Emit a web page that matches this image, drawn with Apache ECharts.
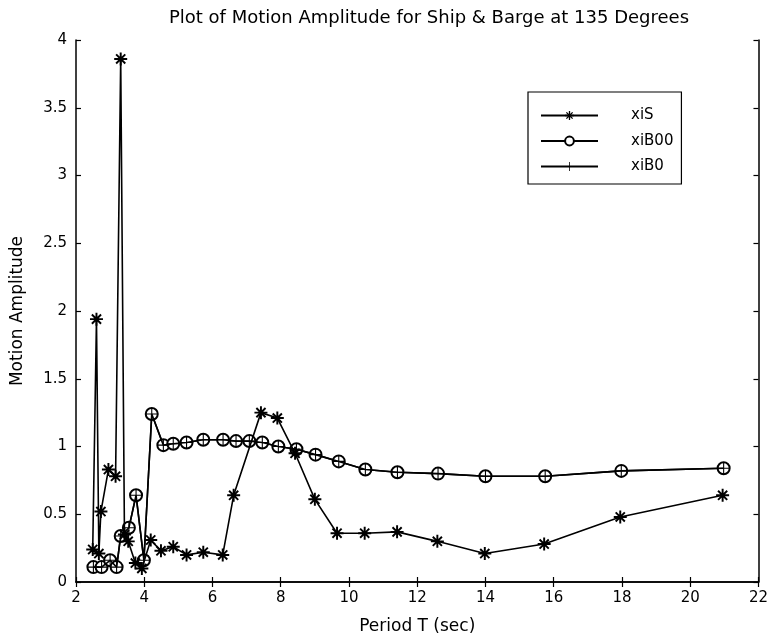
<!DOCTYPE html>
<html>
<head>
<meta charset="utf-8">
<script src="https://cdn.jsdelivr.net/npm/echarts@6/dist/echarts.min.js"></script>
<style>html,body{margin:0;padding:0;background:#fff}#c{width:771px;height:640px}</style>
</head>
<body>
<div id="c"></div>
<script>
// Data
var titleText = 'Plot of Motion Amplitude for Ship & Barge at 135 Degrees';
var xLabel = 'Period T (sec)';
var yLabel = 'Motion Amplitude';
var seriesNames = ['xiS', 'xiB00', 'xiB0'];

var xiS_T = [2.49, 2.60, 2.67, 2.73, 2.95, 3.16, 3.31, 3.42, 3.53, 3.74, 3.93, 4.19, 4.49, 4.85, 5.24, 5.73, 6.30, 6.62, 7.42, 7.90, 8.42, 9.00, 9.65, 10.46, 11.41, 12.59, 13.98, 15.72, 17.95, 20.95];
var xiS_A = [0.24, 1.94, 0.21, 0.52, 0.83, 0.78, 3.86, 0.35, 0.30, 0.14, 0.10, 0.31, 0.23, 0.26, 0.20, 0.22, 0.20, 0.64, 1.25, 1.21, 0.95, 0.61, 0.36, 0.36, 0.37, 0.30, 0.21, 0.28, 0.48, 0.64];

var xiB00_T = [2.51, 2.75, 3.00, 3.19, 3.31, 3.55, 3.76, 3.99, 4.22, 4.56, 4.85, 5.24, 5.73, 6.31, 6.69, 7.08, 7.46, 7.93, 8.46, 9.02, 9.70, 10.48, 11.42, 12.61, 14.00, 15.75, 17.98, 20.98];
var xiB00_A = [0.11, 0.11, 0.16, 0.11, 0.34, 0.40, 0.64, 0.16, 1.24, 1.01, 1.02, 1.03, 1.05, 1.05, 1.04, 1.04, 1.03, 1.00, 0.98, 0.94, 0.89, 0.83, 0.81, 0.80, 0.78, 0.78, 0.82, 0.84];

var xiB0_T = [2.51, 2.75, 3.00, 3.19, 3.31, 3.55, 3.76, 3.99, 4.22, 4.56, 4.85, 5.24, 5.73, 6.31, 6.69, 7.08, 7.46, 7.93, 8.46, 9.02, 9.70, 10.48, 11.42, 12.61, 14.00, 15.75, 17.98, 20.98];
var xiB0_A = [0.11, 0.11, 0.16, 0.11, 0.34, 0.40, 0.64, 0.16, 1.24, 1.01, 1.02, 1.03, 1.05, 1.05, 1.04, 1.04, 1.03, 1.00, 0.98, 0.94, 0.89, 0.83, 0.81, 0.80, 0.78, 0.78, 0.82, 0.84];

function pairs(xs, ys) { return xs.map(function (x, i) { return [x, ys[i]]; }); }

var starPath = 'path://M8.5 0L11.5 0L11.5 20L8.5 20Z M0 8.5L20 8.5L20 11.5L0 11.5Z M1.9 4L4 1.9L18.1 16L16 18.1Z M16 1.9L18.1 4L4 18.1L1.9 16Z';
var plusPath = 'path://M9.1 0L10.9 0L10.9 20L9.1 20Z M0 9.1L20 9.1L20 10.9L0 10.9Z';

var font = 'DejaVu Sans';
var axisCommon = {
  axisLine: { show: true, lineStyle: { color: '#000', width: 1.5 } },
  axisTick: { show: true, inside: true, length: 5, lineStyle: { color: '#000', width: 1.2 } },
  splitLine: { show: false }
};

var chart = echarts.init(document.getElementById('c'), null, { renderer: 'canvas' });
chart.setOption({
  backgroundColor: '#fff',
  animation: false,
  title: {
    text: titleText, left: 424, top: 4, textAlign: 'center',
    textStyle: { fontFamily: font, fontSize: 18, fontWeight: 'normal', color: '#000' }
  },
  legend: {
    orient: 'vertical', left: 528, top: 92,
    data: seriesNames,
    itemWidth: 57, itemHeight: 11, itemGap: 10.5,
    padding: [16, 8, 10, 12],
    borderColor: '#000', borderWidth: 1.2,
    textStyle: { fontFamily: font, fontSize: 15, color: '#000', padding: [0, 0, 0, 28] }
  },
  grid: { left: 76, right: 12, top: 40, bottom: 57 },
  xAxis: [
    Object.assign({}, axisCommon, {
      type: 'value', min: 2, max: 22, interval: 2,
      name: xLabel, nameLocation: 'middle', nameGap: 36,
      nameTextStyle: { fontFamily: font, fontSize: 17, color: '#000' },
      axisLabel: { fontFamily: font, fontSize: 15, color: '#000', margin: 9 }
    }),
    Object.assign({}, axisCommon, {
      type: 'value', min: 2, max: 22, interval: 2, position: 'top',
      axisLabel: { show: false }
    })
  ],
  yAxis: [
    Object.assign({}, axisCommon, {
      type: 'value', min: 0, max: 4, interval: 0.5,
      name: yLabel, nameLocation: 'middle', nameGap: 50,
      nameTextStyle: { fontFamily: font, fontSize: 17, color: '#000' },
      axisLabel: { fontFamily: font, fontSize: 15, color: '#000', margin: 9 }
    }),
    Object.assign({}, axisCommon, {
      type: 'value', min: 0, max: 4, interval: 0.5, position: 'right',
      axisLabel: { show: false }
    })
  ],
  series: [
    {
      name: seriesNames[0], type: 'line', data: pairs(xiS_T, xiS_A),
      symbol: starPath, symbolSize: 13,
      lineStyle: { color: '#000', width: 1.6 },
      itemStyle: { color: '#000', borderWidth: 0 }, z: 3
    },
    {
      name: seriesNames[1], type: 'line', data: pairs(xiB00_T, xiB00_A),
      symbol: 'emptyCircle', symbolSize: 12,
      lineStyle: { color: '#000', width: 1.6 },
      itemStyle: { color: '#000', borderColor: '#000', borderWidth: 1.3 }, z: 2
    },
    {
      name: seriesNames[2], type: 'line', data: pairs(xiB0_T, xiB0_A),
      symbol: plusPath, symbolSize: 12,
      lineStyle: { color: '#000', width: 1.6 },
      itemStyle: { color: '#000', borderWidth: 0 }, z: 4
    }
  ]
});
</script>
</body>
</html>
